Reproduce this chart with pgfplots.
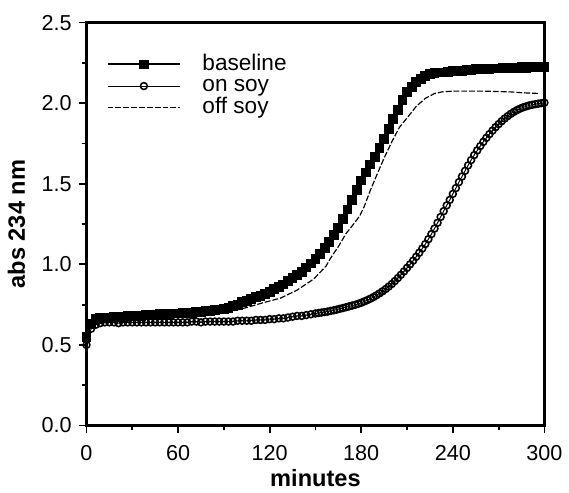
\documentclass[border=0pt]{standalone}
\usepackage{pgfplots}
\pgfplotsset{compat=1.18}
\usepackage{fontspec}
\setmainfont{Liberation Sans}

% baseline, every 3 min
\pgfplotstableread{
t y
0 0.55
3 0.63
6 0.66
9 0.665
12 0.67
15 0.67
18 0.672
21 0.675
24 0.675
27 0.678
30 0.68
33 0.68
36 0.682
39 0.685
42 0.685
45 0.688
48 0.69
51 0.69
54 0.692
57 0.695
60 0.695
63 0.698
66 0.70
69 0.70
72 0.703
75 0.706
78 0.71
81 0.713
84 0.716
87 0.72
90 0.725
93 0.73
96 0.74
99 0.75
102 0.765
105 0.775
108 0.785
111 0.795
114 0.805
117 0.815
120 0.83
123 0.845
126 0.86
129 0.875
132 0.895
135 0.915
138 0.935
141 0.955
144 0.98
147 1.005
150 1.035
153 1.065
156 1.10
159 1.14
162 1.18
165 1.225
168 1.28
171 1.34
174 1.40
177 1.46
180 1.52
183 1.57
186 1.62
189 1.665
192 1.72
195 1.78
198 1.84
201 1.90
204 1.96
207 2.02
210 2.07
213 2.10
216 2.13
219 2.15
222 2.17
225 2.18
228 2.185
231 2.19
234 2.19
237 2.195
240 2.20
243 2.20
246 2.20
249 2.205
252 2.205
255 2.21
258 2.21
261 2.21
264 2.21
267 2.215
270 2.215
273 2.22
276 2.22
279 2.22
282 2.22
285 2.225
288 2.22
291 2.225
294 2.225
297 2.225
300 2.225
}\baseline

% on soy
\pgfplotstableread{
t y
0 0.50
3 0.60
6 0.625
9 0.635
12 0.64
15 0.64
18 0.64
21 0.635
24 0.64
27 0.64
30 0.64
33 0.64
36 0.64
39 0.64
42 0.64
45 0.64
48 0.64
51 0.64
54 0.64
57 0.64
60 0.64
63 0.64
66 0.64
69 0.645
72 0.645
75 0.64
78 0.645
81 0.645
84 0.645
87 0.645
90 0.645
93 0.645
96 0.645
99 0.65
102 0.65
105 0.65
108 0.65
111 0.655
114 0.655
117 0.655
120 0.66
123 0.66
126 0.665
129 0.665
132 0.67
135 0.675
138 0.68
141 0.68
144 0.685
147 0.69
150 0.695
152 0.698
154 0.701
156 0.704
158 0.707
160 0.711
162 0.715
164 0.719
166 0.724
168 0.729
170 0.734
172 0.739
174 0.744
176 0.749
178 0.755
180 0.762
182 0.770
184 0.778
186 0.787
188 0.797
190 0.808
192 0.82
194 0.833
196 0.847
198 0.862
200 0.878
202 0.896
204 0.915
206 0.935
208 0.956
210 0.978
212 1.00
214 1.023
216 1.047
218 1.072
220 1.098
222 1.126
224 1.156
226 1.188
228 1.222
230 1.258
232 1.294
234 1.33
236 1.366
238 1.40
240 1.437
242 1.473
244 1.51
246 1.545
248 1.58
250 1.614
252 1.647
254 1.678
256 1.707
258 1.734
260 1.76
262 1.785
264 1.808
266 1.83
268 1.851
270 1.87
272 1.888
274 1.905
276 1.92
278 1.934
280 1.946
282 1.957
284 1.966
286 1.974
288 1.98
290 1.986
292 1.99
294 1.994
296 1.997
298 2.00
300 2.003
}\onsoy

% off soy
\pgfplotstableread{
t y
0 0.56
3 0.63
6 0.65
10 0.66
30 0.67
60 0.68
80 0.69
90 0.70
100 0.72
106 0.735
115 0.76
127 0.79
138 0.84
149 0.91
157 0.99
160 1.04
165 1.11
170 1.19
175 1.25
179 1.30
182 1.36
186 1.46
190 1.55
195 1.66
200 1.76
205 1.85
211 1.92
216 1.98
222 2.03
228 2.06
233 2.07
240 2.075
260 2.075
278 2.07
285 2.065
297 2.06
}\offsoy

\begin{document}
\begin{tikzpicture}
\begin{axis}[
    scale only axis,
    width=233pt, height=205pt,
    xmin=0, xmax=300, ymin=0, ymax=2.5,
    xtick={0,60,...,300},
    ytick={0,0.5,...,2.5},
    minor x tick num=1,
    minor y tick num=1,
    xtick pos=left, ytick pos=left,
    tick align=outside,
    major tick length=4pt,
    minor tick length=2.5pt,
    axis line style={line width=1.2pt},
    every tick/.style={black, line width=0.9pt},
    yticklabel style={/pgf/number format/fixed, /pgf/number format/fixed zerofill, /pgf/number format/precision=1},
    xticklabel style={yshift=-2.5pt},
    /pgf/number format/assume math mode=true,
    tick label style={font=\fontsize{11}{13}\selectfont},
    xlabel={\textbf{minutes}},
    ylabel={\textbf{abs 234 nm}},
    every axis x label/.style={at={(rel axis cs:0.5,0)}, anchor=center, yshift=-26.5pt,
        font=\fontsize{12}{14}\selectfont},
    every axis y label/.style={at={(rel axis cs:0,0.5)}, anchor=center, xshift=-35.6pt, rotate=90,
        font=\fontsize{12}{14}\selectfont},
    legend style={draw=none, fill=none, inner sep=0pt, at={(0.043,0.924)}, anchor=north west,
        font=\fontsize{11.5}{13}\selectfont, row sep=0pt,
        nodes={inner sep=0pt, text height=8.5pt, text depth=2.5pt},
        /tikz/every odd column/.append style={column sep=10.8pt}},
    legend cell align=left,
    legend image code/.code={\draw[mark repeat=2,mark phase=2,#1] plot coordinates {(0cm,0cm) (0.65cm,0cm) (1.3cm,0cm)};},
]
\addplot[black, line width=1pt, mark=square*, mark size=2pt, mark options={solid, fill=black}] table[x=t, y=y] {\baseline};
\addlegendentry{baseline}
\addplot[black, line width=0.5pt, mark=o, mark size=1.75pt, mark options={solid, fill=white, line width=0.8pt}] table[x=t, y=y] {\onsoy};
\addlegendentry{on soy}
\addplot[black, line width=0.6pt, dash pattern=on 3pt off 1pt] table[x=t, y=y] {\offsoy};
\addlegendentry{off soy}
\end{axis}
\path (current axis.south west) +(-44pt,-32.5pt);
\path (current axis.north east) +(9pt,11.5pt);
\end{tikzpicture}
\end{document}
